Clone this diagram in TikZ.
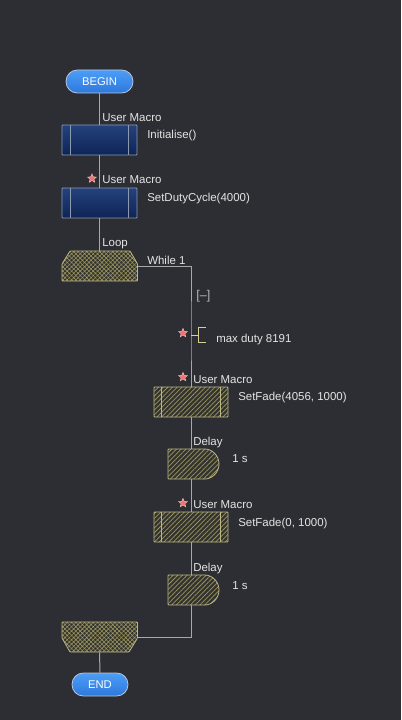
\documentclass[tikz,border=0pt]{standalone}
\usepackage{fontspec}
\setmainfont{Liberation Sans}
\usetikzlibrary{patterns.meta,shapes.geometric}
\definecolor{bg}{HTML}{2D2E33}
\definecolor{txt}{HTML}{E4E4E4}
\definecolor{wire}{HTML}{A8A8A8}
\definecolor{hatchc}{HTML}{9A9460}
\definecolor{hatchbg}{HTML}{33332F}
\definecolor{hatchborder}{HTML}{BDB785}
\definecolor{macrotop}{HTML}{24427D}
\definecolor{macrobot}{HTML}{0E2455}
\definecolor{macroborder}{HTML}{8D99B0}
\definecolor{termtop}{HTML}{4D9EF7}
\definecolor{termbot}{HTML}{2D78DC}
\definecolor{termborder}{HTML}{B9C6DC}
\definecolor{starc}{HTML}{F07272}
\definecolor{starb}{HTML}{FFC4C4}
\definecolor{cmt}{HTML}{D6CF93}
\definecolor{fold}{HTML}{B4B4B4}
\begin{document}
\begin{tikzpicture}[x=0.75pt,y=-0.75pt,
  font=\fontsize{8.6}{10}\selectfont,
  lbl/.style={anchor=base west,inner sep=0pt,text=txt},
  term/.style={draw=termborder,line width=0.6pt,rounded corners=8.5pt,top color=termtop,bottom color=termbot,
    minimum height=17.25pt,inner sep=0pt,text=white,font=\fontsize{8.4}{10}\selectfont},
  macrobox/.style={draw=macroborder,line width=0.6pt,rounded corners=0.6pt,top color=macrotop,bottom color=macrobot,
    minimum width=56.25pt,minimum height=22.5pt,inner sep=0pt},
  hatchbox/.style={draw=hatchborder,line width=0.6pt,rounded corners=0.6pt,
    preaction={fill=hatchbg},pattern={Lines[angle=45,distance=2.5pt,line width=0.55pt]},pattern color=hatchc,
    minimum width=55.5pt,minimum height=22.5pt,inner sep=0pt},
  hatchshape/.style={draw=hatchborder,line width=0.6pt,rounded corners=0.6pt,
    preaction={fill=hatchbg},pattern={Lines[angle=45,distance=2.5pt,line width=0.55pt]},pattern color=hatchc},
  crossshape/.style={draw=hatchborder,line width=0.6pt,rounded corners=0.6pt,
    preaction={fill=hatchbg},pattern={Hatch[angle=45,distance=2.3pt,line width=0.45pt]},pattern color=hatchc},
  ghost/.style={draw=none,inner sep=0pt},
  wireline/.style={draw=wire,line width=0.75pt},
  innerline/.style={draw=macroborder,line width=0.6pt},
  innerhatch/.style={draw=hatchborder,line width=0.6pt},
  starmark/.style={star,star points=5,star point ratio=2.3,minimum size=7pt,inner sep=0pt,fill=starc,draw=starb,line width=0.3pt}
]
\fill[bg] (0,0) rectangle (401,720);
\useasboundingbox (0,0) rectangle (401,720);

% nodes
\node[term,minimum width=50.25pt] (begin) at (99.5,81.5) {BEGIN};
\node[macrobox] (init) at (99.5,140) {};
\node[macrobox] (sdc) at (99.5,203) {};
\node[ghost,minimum width=56.25pt,minimum height=22.5pt] (loop) at (99.5,266) {};
\node[hatchbox] (sf1) at (191,402) {};
\node[ghost,minimum width=34.5pt,minimum height=22.5pt] (d1) at (191,464) {};
\node[hatchbox] (sf2) at (191,527) {};
\node[ghost,minimum width=34.5pt,minimum height=22.5pt] (d2) at (191,590) {};
\node[ghost,minimum width=56.25pt,minimum height=22.5pt] (endloop) at (99.5,637) {};
\node[term,minimum width=42pt] (end) at (100,684.5) {END};
\coordinate (cm) at (191,335);

% connectors
\draw[wireline] (begin.south) -- (init.north);
\draw[wireline] (init.south) -- (sdc.north);
\draw[wireline] (sdc.south) -- (loop.north);
\draw[wireline] (loop.east) -| (cm) -- (sf1.north);
\draw[wireline] (sf1.south) -- (d1.north);
\draw[wireline] (d1.south) -- (sf2.north);
\draw[wireline] (sf2.south) -- (d2.north);
\draw[wireline] (d2.south) |- (endloop.east);
\draw[wireline] (endloop.south) -- (end.north);

% inner lines of macro boxes
\foreach \n in {init,sdc}{
  \draw[innerline] ([xshift=6.5pt]\n.north west) -- ([xshift=6.5pt]\n.south west);
  \draw[innerline] ([xshift=-6.5pt]\n.north east) -- ([xshift=-6.5pt]\n.south east);
}
\foreach \n in {sf1,sf2}{
  \draw[innerhatch] ([xshift=6pt]\n.north west) -- ([xshift=6pt]\n.south west);
  \draw[innerhatch] ([xshift=-6pt]\n.north east) -- ([xshift=-6pt]\n.south east);
}

% loop shapes
\draw[crossshape] (70,251) -- (130,251) -- (137.5,264) -- (137.5,281) -- (62,281) -- (62,264) -- cycle;
\draw[crossshape] (62,622) -- (137.5,622) -- (137.5,638) -- (129,652) -- (70,652) -- (62,638) -- cycle;

% delay shapes
\draw[hatchshape] (168,449) -- (204,449) arc[start angle=-90,end angle=90,radius=15] -- (168,479) -- cycle;
\draw[hatchshape] (168,575) -- (204,575) arc[start angle=-90,end angle=90,radius=15] -- (168,605) -- cycle;

% comment bracket
\draw[cmt,line width=0.75pt] (cm) -- (198,335);
\draw[cmt,line width=0.75pt] (206,327.5) -- (198,327.5) -- (198,342.5) -- (206,342.5);

% stars
\node[starmark] (s1) at (92,178.5) {};
\node[starmark] (s2) at (183,333) {};
\node[starmark] (s3) at (183,377) {};
\node[starmark] (s4) at (183,503) {};

% labels
\node[lbl] (l1) at (102,121.5) {User Macro};
\node[lbl] (t1) at (147,139) {Initialise()};
\node[lbl] (l2) at (102,183.5) {User Macro};
\node[lbl] (t2) at (147,202) {SetDutyCycle(4000)};
\node[lbl] (l3) at (102,246) {Loop};
\node[lbl] (t3) at (147,264) {While 1};
\node[lbl,text=fold,font=\fontsize{9.5}{12}\selectfont] (fd) at (196,299.5) {[–]};
\node[lbl] (t4) at (216,342.5) {max duty 8191};
\node[lbl] (l4) at (193,383.3) {User Macro};
\node[lbl] (t5) at (238,400.7) {SetFade(4056, 1000)};
\node[lbl] (l5) at (193,445.7) {Delay};
\node[lbl] (t6) at (232,462.7) {1 s};
\node[lbl] (l6) at (193,508.3) {User Macro};
\node[lbl] (t7) at (238,526.7) {SetFade(0, 1000)};
\node[lbl] (l7) at (193,571.7) {Delay};
\node[lbl] (t8) at (232,589) {1 s};
\end{tikzpicture}
\end{document}
